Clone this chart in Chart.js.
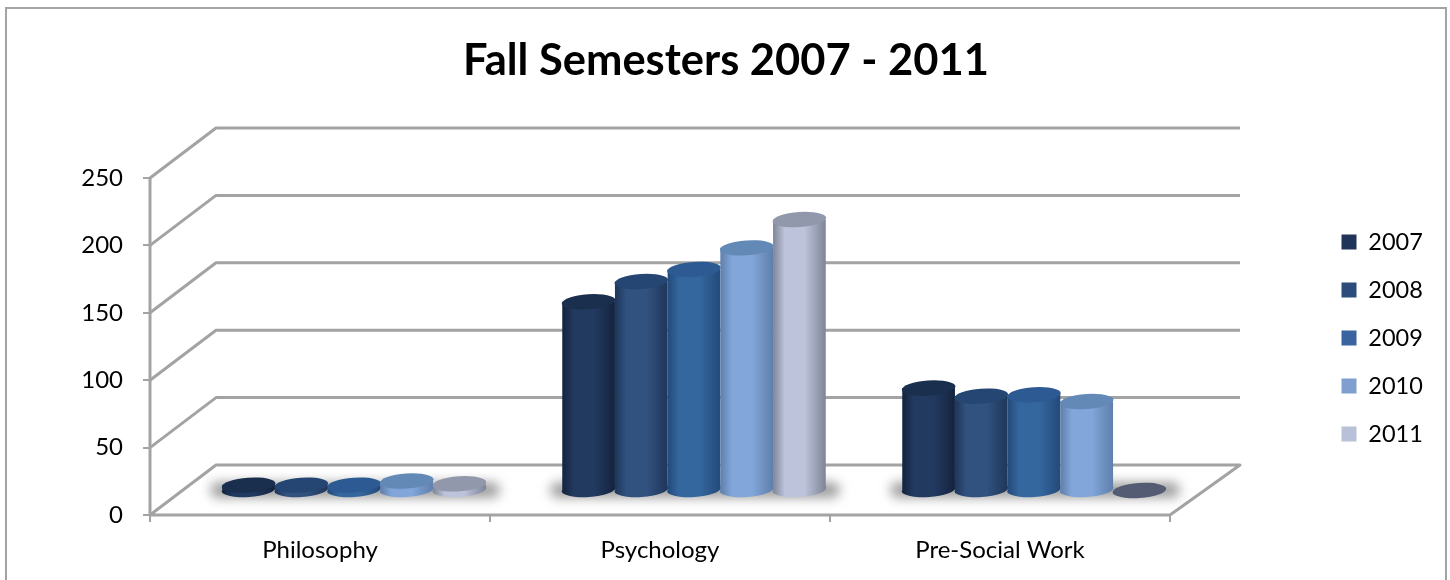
<!DOCTYPE html>
<html>
<head>
<meta charset="utf-8">
<style>html,body{margin:0;padding:0;background:#fff}canvas{display:block}</style>
<script src="https://cdn.jsdelivr.net/npm/chart.js@4"></script>
</head>
<body>
<canvas id="c" width="1450" height="580"></canvas>
<script>
const categories = ['Philosophy', 'Psychology', 'Pre-Social Work'];
const seriesNames = ['2007', '2008', '2009', '2010', '2011'];
const values2007 = [4, 140, 76];
const values2008 = [4, 155, 70];
const values2009 = [4, 164, 71];
const values2010 = [7, 180, 66];
const values2011 = [5, 201, 0];
const yMax = 250;
const yStep = 50;
const titleText = 'Fall Semesters 2007 - 2011';

const legendColors = ['#1f3458', '#2c4c7c', '#3a64a0', '#7e9fd0', '#b9c1d8'];
const midColors = ['#223a60', '#31527f', '#35679f', '#82a6da', '#bcc3da'];
const edgeColors = ['#14233d', '#1e3659', '#234a7a', '#5f7fab', '#7f8597'];
const topColors = ['#1a2e4e', '#254672', '#2d5a92', '#6389b7', '#9298ab'];
const zeroDisk = '#535c72';
const gridGray = '#a3a3a3';
const FONT = 'Lato, Carlito, sans-serif';
const depthX = 66, depthY = 50, barDX = 34, barDY = -24.5, ry = 7.5, tilt = -0.07;

function bodyGradient(ctx, el, i) {
  const l = el.x - el.width / 2, r = el.x + el.width / 2;
  const g = ctx.createLinearGradient(l, 0, r, 0);
  g.addColorStop(0, edgeColors[i]);
  g.addColorStop(0.22, midColors[i]);
  g.addColorStop(0.6, midColors[i]);
  g.addColorStop(1, edgeColors[i]);
  return g;
}
function disk(ctx, x, y, w, fill) {
  ctx.beginPath();
  ctx.ellipse(x, y, w / 2 + 0.5, ry, tilt, 0, Math.PI * 2);
  ctx.fillStyle = fill;
  ctx.fill();
}

const plugin3d = {
  id: 'plugin3d',
  afterLayout(chart) {
    const lg = chart.legend;
    const h = lg.bottom - lg.top, w = lg.right - lg.left;
    lg.left = 1317; lg.right = 1317 + w;
    lg.top = 338 - h / 2; lg.bottom = lg.top + h;
    chart.titleBlock.left = 1;
    chart.titleBlock.right = 1451;
  },
  beforeDraw(chart) {
    const c = chart.ctx;
    c.save();
    c.fillStyle = '#fff';
    c.fillRect(0, 0, chart.width, chart.height);
    c.strokeStyle = gridGray;
    c.lineWidth = 2;
    c.strokeRect(6, 8, 1440, 600);
    c.restore();
  },
  beforeDatasetsDraw(chart) {
    const c = chart.ctx, y = chart.scales.y, x = chart.scales.x;
    const L = x.left, R = x.right;
    c.save();
    c.strokeStyle = gridGray;
    c.lineWidth = 3;
    c.lineJoin = 'round';
    for (let v = 0; v <= yMax; v += yStep) {
      const p = y.getPixelForValue(v);
      c.beginPath();
      c.moveTo(L, p);
      c.lineTo(L + depthX, p - depthY);
      c.lineTo(R + depthX + 4, p - depthY);
      if (v === 0) { c.lineTo(R, p); c.lineTo(L, p); }
      c.stroke();
    }
    c.beginPath();
    c.moveTo(L, y.getPixelForValue(0));
    c.lineTo(L, y.getPixelForValue(yMax));
    c.stroke();
    c.restore();

    c.save();
    c.translate(barDX, barDY);
    const metas = chart.data.datasets.map((d, i) => chart.getDatasetMeta(i));
    // soft floor shadows
    categories.forEach((cat, k) => {
      const a = metas[0].data[k], b = metas[metas.length - 1].data[k];
      const left = a.x - a.width / 2 - 12, right = b.x + b.width / 2 + 14;
      c.save();
      c.filter = 'blur(6px)';
      c.fillStyle = 'rgba(90,90,90,0.62)';
      c.beginPath();
      c.roundRect(left, a.base - 7, right - left, 15, 8);
      c.fill();
      c.restore();
    });
    // paint series left to right so each cylinder overlaps the one before it
    metas.forEach((meta, i) => {
      const vals = chart.data.datasets[i].data;
      meta.data.forEach((el, k) => {
        const g = bodyGradient(c, el, i);
        el.options = Object.assign({}, el.options, { backgroundColor: g, borderWidth: 0 });
        if (vals[k] > 0) disk(c, el.x, el.base, el.width, g);
      });
      meta.controller.draw();
      meta.data.forEach((el, k) => {
        disk(c, el.x, el.y, el.width, vals[k] > 0 ? topColors[i] : zeroDisk);
      });
    });
    c.restore();
    return false;
  }
};

const allValues = [values2007, values2008, values2009, values2010, values2011];
new Chart(document.getElementById('c'), {
  type: 'bar',
  data: {
    labels: categories,
    datasets: seriesNames.map((name, i) => ({
      label: name,
      data: allValues[i],
      backgroundColor: legendColors[i],
      borderWidth: 0,
      clip: false,
      barPercentage: 1,
      categoryPercentage: 0.775
    }))
  },
  options: {
    responsive: false,
    animation: false,
    layout: { padding: { left: 50, right: 280, top: 0, bottom: 0 } },
    plugins: {
      title: {
        display: true,
        text: titleText,
        color: '#000',
        font: { family: FONT, size: 43.5, weight: 'bold' },
        padding: { top: 35, bottom: 90.8 }
      },
      tooltip: { enabled: false },
      legend: {
        position: 'chartArea',
        labels: {
          color: '#000',
          font: { family: FONT, size: 23.5 },
          boxWidth: 15, boxHeight: 15,
          padding: 24.5
        }
      }
    },
    scales: {
      x: {
        offset: true,
        afterFit(s) { s.height = 65; },
        border: { display: false },
        grid: { display: true, offset: true, drawOnChartArea: false, drawTicks: true, tickLength: 7, color: gridGray, lineWidth: 2 },
        ticks: { color: '#000', font: { family: FONT, size: 24 }, padding: 14, maxRotation: 0 }
      },
      y: {
        min: 0, max: yMax,
        afterFit(s) { s.width = 100; },
        border: { display: false },
        grid: { display: true, drawOnChartArea: false, drawTicks: true, tickLength: 7, color: gridGray, lineWidth: 2 },
        ticks: { stepSize: yStep, color: '#000', font: { family: FONT, size: 24 }, padding: 20 }
      }
    }
  },
  plugins: [plugin3d]
});
</script>
</body>
</html>
